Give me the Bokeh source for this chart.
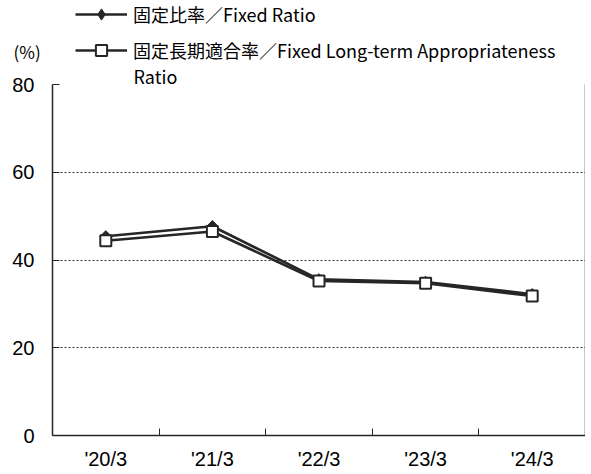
from math import pi
from bokeh.plotting import figure
from bokeh.layouts import column
from bokeh.models import (Range1d, FixedTicker, Legend, LegendItem, Label, Title,
                          LinearAxis, ColumnDataSource)
from bokeh.embed import file_html
from bokeh.resources import INLINE

categories = ["'20/3", "'21/3", "'22/3", "'23/3", "'24/3"]
fixed_ratio = [45.4, 47.7, 35.6, 35.0, 32.2]
long_term_ratio = [44.4, 46.5, 35.2, 34.7, 31.8]
y_ticks = [0, 20, 40, 60, 80]
series_names = ["固定比率／Fixed Ratio", "固定長期適合率／Fixed Long-term Appropriateness"]
series_name_cont = "Ratio"
unit_label = "(%)"

DARK = "#262626"
W = 585
HEAD_H = 64
MAIN_H = 408
LEFT = 52
HEAD_X0 = 100  # header strip coordinate origin (keeps the series data outside its view)

xs = [i + 0.5 for i in range(len(categories))]
src = ColumnDataSource(dict(x=xs, a=fixed_ratio, b=long_term_ratio))

# ---------------- header (legend area) ----------------
head = figure(width=W, height=HEAD_H, output_backend="svg", toolbar_location=None,
              title=None, x_range=Range1d(HEAD_X0, HEAD_X0 + W), y_range=Range1d(HEAD_H, 0),
              x_axis_location=None, y_axis_location=None,
              min_border_left=0, min_border_right=0, min_border_top=0, min_border_bottom=0)
head.frame_align = False
head.outline_line_color = None
head.grid.visible = False
head.background_fill_color = "white"
head.border_fill_color = "white"

# legend keys share the series data (it lies outside this strip's range, so only the keys show)
pa_line = head.line("x", "a", source=src, line_color=DARK, line_width=2.6)
pa_mark = head.scatter("x", "a", source=src, marker="diamond", angle=pi / 2,
                       fill_color=DARK, line_color=DARK, line_width=1)
pb_line = head.line("x", "b", source=src, line_color=DARK, line_width=2.6)
pb_mark = head.scatter("x", "b", source=src, marker="square", fill_color="white",
                       line_color=DARK, line_width=2)

legend = Legend(items=[LegendItem(label=series_names[0], renderers=[pa_line, pa_mark]),
                       LegendItem(label=series_names[1], renderers=[pb_line, pb_mark])],
                location=(75, 0), orientation="vertical",
                label_text_font="Noto Sans CJK JP", label_text_font_size="18px",
                label_text_color="black", glyph_width=52, glyph_height=28,
                label_height=28, spacing=8, padding=0, margin=0, label_standoff=6,
                border_line_alpha=0, background_fill_alpha=0)
head.add_layout(legend, "center")

head.add_layout(Label(x=HEAD_X0 + 13, y=51, text=unit_label,
                      text_font="Noto Sans CJK JP", text_font_size="17px",
                      text_baseline="middle", text_align="left", text_color="black"))

# ---------------- main chart ----------------
p = figure(width=W, height=MAIN_H, output_backend="svg", toolbar_location=None,
           title=None, x_range=Range1d(0, len(categories)), y_range=Range1d(0, 80),
           min_border_left=LEFT, min_border_right=0, min_border_top=20, min_border_bottom=35)
p.frame_align = False
p.background_fill_color = "white"
p.border_fill_color = "white"
p.outline_line_color = None

p.add_layout(Title(text=series_name_cont, align="left", offset=81, standoff=-8,
                   vertical_align="bottom", text_font="Noto Sans CJK JP",
                   text_font_size="18px", text_font_style="normal",
                   text_color="black"), "above")

xa = p.xaxis[0]
xa.ticker = FixedTicker(ticks=xs, minor_ticks=[1, 2, 3, 4])
xa.major_label_overrides = {x: c for x, c in zip(xs, categories)}
xa.major_tick_in = 0
xa.major_tick_out = 0
xa.minor_tick_in = 7
xa.minor_tick_out = 0
xa.minor_tick_line_color = DARK
xa.axis_line_color = DARK
xa.axis_line_width = 1.5
xa.major_label_text_font = "Liberation Sans"
xa.major_label_text_font_size = "20px"
xa.major_label_text_color = "black"
xa.major_label_standoff = 12

ya = p.yaxis[0]
ya.ticker = FixedTicker(ticks=y_ticks)
ya.major_tick_in = 7
ya.major_tick_out = 0
ya.minor_tick_line_color = None
ya.major_tick_line_color = DARK
ya.axis_line_color = DARK
ya.axis_line_width = 1.5
ya.major_label_text_font = "Liberation Sans"
ya.major_label_text_font_size = "20px"
ya.major_label_text_color = "black"
ya.major_label_standoff = 18

ra = LinearAxis(ticker=FixedTicker(ticks=[]), major_tick_in=0, major_tick_out=0,
                minor_tick_in=0, minor_tick_out=0, major_label_text_font_size="0px",
                major_label_standoff=0, axis_line_color=DARK, axis_line_width=1.5)
p.add_layout(ra, "right")

p.xgrid.grid_line_color = None
p.ygrid.ticker = FixedTicker(ticks=y_ticks)
p.ygrid.grid_line_color = "#333333"
p.ygrid.grid_line_dash = "2 2"
p.ygrid.grid_line_width = 1

p.line("x", "a", source=src, line_color=DARK, line_width=2.6)
p.scatter("x", "a", source=src, marker="square", angle=pi / 4, size=8,
          fill_color=DARK, line_color=DARK, line_width=1)
p.line("x", "b", source=src, line_color=DARK, line_width=2.6)
p.scatter("x", "b", source=src, marker="square", size=11,
          fill_color="white", line_color=DARK, line_width=2)

layout = column(head, p, spacing=0)
open("out.html", "w").write(file_html(layout, INLINE))
